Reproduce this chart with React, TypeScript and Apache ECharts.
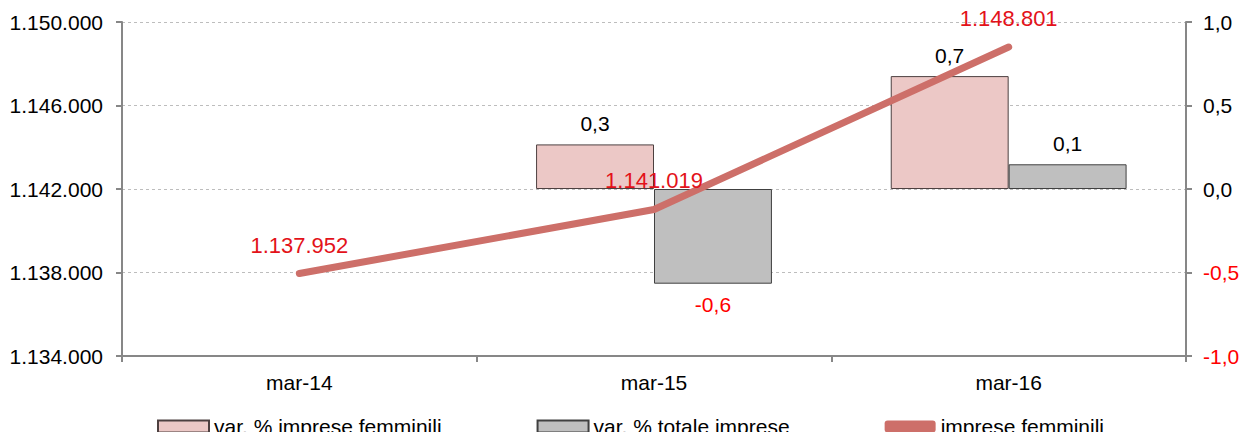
import React, { useEffect, useRef } from "react";
import * as echarts from "echarts";

const categories = ["mar-14", "mar-15", "mar-16"];
const varImpreseFemminili: (number | null)[] = [null, 0.267, 0.676];
const varTotaleImprese: (number | null)[] = [null, -0.567, 0.148];
const impreseFemminili = [1137952, 1141019, 1148801];

const leftTicks = { min: 1134000, max: 1150000, interval: 4000 };
const rightTicks = { min: -1, max: 1, interval: 0.5 };

const FONT = "'Liberation Sans', Arial, sans-serif";
const RED = "#ff0000";
const LINE_RED = "#e3121a";
const FS = 21;

const fmtThousands = (v: number) =>
  Math.round(v).toString().replace(/\B(?=(\d{3})+(?!\d))/g, ".");
const fmtDec = (v: number) => (Math.round(v * 10) / 10).toFixed(1).replace(".", ",");

const barData = (arr: (number | null)[]) =>
  arr.map((v) =>
    v === null
      ? null
      : {
          value: v,
          label: {
            position: v >= 0 ? "top" : "bottom",
            color: v >= 0 ? "#000000" : RED,
          },
        }
  );

export default function App() {
  const ref = useRef<HTMLDivElement>(null);
  useEffect(() => {
    document.body.style.margin = "0";
    const chart = echarts.init(ref.current!, null, { renderer: "svg" });
    chart.setOption({
      animation: false,
      backgroundColor: "#ffffff",
      textStyle: { fontFamily: FONT },
      grid: { left: 122, right: 62, top: 22, bottom: 76, containLabel: false },
      legend: {
        left: 152,
        top: 411,
        itemGap: 95,
        itemWidth: 51,
        itemHeight: 12,
        textStyle: { fontSize: FS, color: "#000", fontFamily: FONT },
        data: [
          { name: "var. % imprese femminili", icon: "rect" },
          { name: "var. % totale imprese", icon: "rect" },
          {
            name: "imprese femminili",
            icon: "roundRect",
            itemStyle: { color: "#cd6f69", borderWidth: 0 },
          },
        ],
      },
      xAxis: {
        type: "category",
        data: categories,
        axisLine: { onZero: false, lineStyle: { color: "#878787", width: 2 } },
        axisTick: { show: true, alignWithLabel: false, length: 6, lineStyle: { color: "#878787", width: 2 } },
        axisLabel: { fontSize: FS, color: "#000", margin: 16, fontFamily: FONT },
      },
      yAxis: [
        {
          type: "value",
          position: "left",
          min: leftTicks.min,
          max: leftTicks.max,
          interval: leftTicks.interval,
          axisLine: { show: true, onZero: false, lineStyle: { color: "#878787", width: 2 } },
          axisTick: { show: true, length: 6, lineStyle: { color: "#878787", width: 2 } },
          axisLabel: { fontSize: FS, color: "#000", margin: 19, formatter: fmtThousands, fontFamily: FONT },
          splitLine: { show: true, lineStyle: { color: "#bdbdbd", width: 1, type: [3, 3] } },
        },
        {
          type: "value",
          position: "right",
          min: rightTicks.min,
          max: rightTicks.max,
          interval: rightTicks.interval,
          axisLine: { show: true, onZero: false, lineStyle: { color: "#878787", width: 2 } },
          axisTick: { show: true, length: 6, lineStyle: { color: "#878787", width: 2 } },
          axisLabel: {
            fontSize: FS,
            margin: 17,
            fontFamily: FONT,
            formatter: (v: number) => fmtDec(v),
            color: (v: any) => (Number(v) < 0 ? RED : "#000000"),
          },
          splitLine: { show: false },
        },
      ],
      series: [
        {
          name: "var. % imprese femminili",
          type: "bar",
          yAxisIndex: 1,
          data: barData(varImpreseFemminili),
          barGap: "0%",
          barCategoryGap: "33.5%",
          itemStyle: { color: "#ecc8c6", borderColor: "#4d4040", borderWidth: 1 },
          label: {
            show: true,
            fontSize: FS,
            distance: 10,
            fontFamily: FONT,
            formatter: (p: any) => fmtDec(p.value),
          },
          z: 2,
        },
        {
          name: "var. % totale imprese",
          type: "bar",
          yAxisIndex: 1,
          data: barData(varTotaleImprese),
          barGap: "0%",
          barCategoryGap: "33.5%",
          itemStyle: { color: "#bfbfbf", borderColor: "#404040", borderWidth: 1 },
          label: {
            show: true,
            fontSize: FS,
            distance: 10,
            fontFamily: FONT,
            formatter: (p: any) => fmtDec(p.value),
          },
          z: 2,
        },
        {
          name: "imprese femminili",
          type: "line",
          yAxisIndex: 0,
          data: impreseFemminili,
          symbol: "circle",
          symbolSize: 1,
          itemStyle: { color: "#cd6f69" },
          lineStyle: { color: "#cd6f69", width: 7, cap: "round", join: "round" },
          label: {
            show: true,
            position: "top",
            distance: 17,
            fontSize: 22,
            color: LINE_RED,
            fontFamily: FONT,
            formatter: (p: any) => fmtThousands(p.value),
          },
          z: 3,
        },
      ],
    });
    return () => chart.dispose();
  }, []);
  return <div ref={ref} style={{ width: 1248, height: 432 }} />;
}
